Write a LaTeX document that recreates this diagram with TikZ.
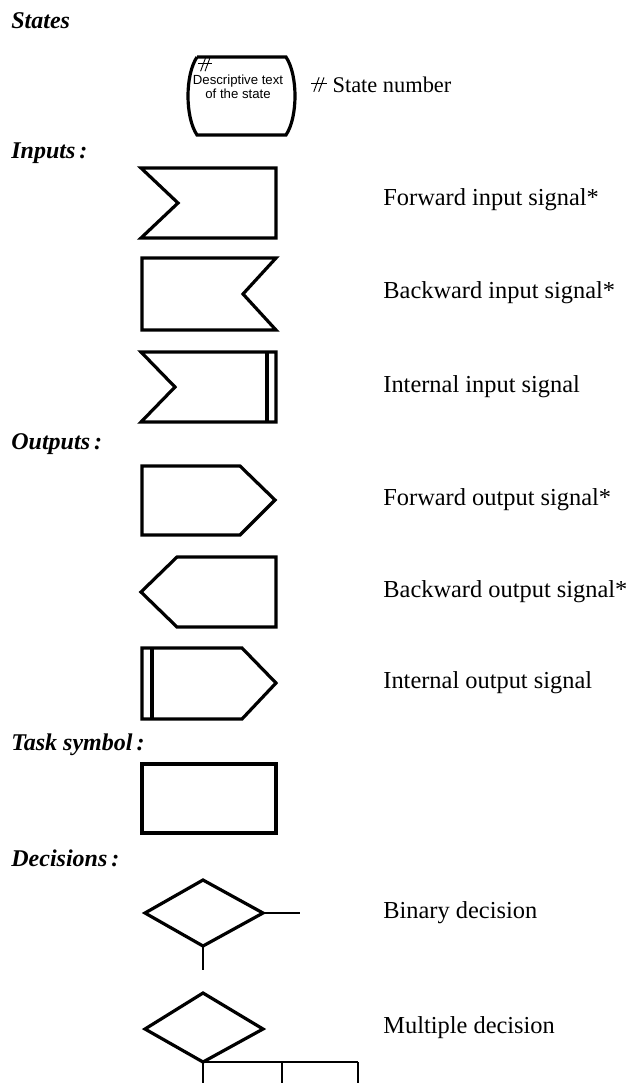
\documentclass[tikz,border=0pt]{standalone}
\usepackage{fontspec}
\setmainfont{Liberation Serif}
\setsansfont{Liberation Sans}
\usetikzlibrary{positioning}

% state number mark: two slanted strokes with one bar
\newcommand{\statemark}{\tikz[baseline=0pt,line width=0.45pt]{%
  \draw (0.05em,0.42em) -- (0.75em,0.42em);
  \draw (0.18em,0.05em) -- (0.42em,0.7em);
  \draw (0.40em,0.05em) -- (0.64em,0.7em);}}

\tikzset{
  symbol/.style={line width=1.6pt, line join=miter},
  flow/.style={line width=0.6pt},
  heading/.style={anchor=west, inner sep=0pt, font=\fontsize{12}{14}\selectfont\bfseries\itshape},
  caption/.style={anchor=west, inner sep=0pt, font=\fontsize{12.2}{14}\selectfont},
  statetext/.style={inner sep=0pt, font=\sffamily\fontsize{6.6}{7.2}\selectfont},
}

\begin{document}
\begin{tikzpicture}[x=0.5pt,y=-0.5pt]
\useasboundingbox (0,0) rectangle (629,1083);
%%
\node (hd_states)  at (11,21)  [heading] {States};
\node (hd_inputs)  at (11,153) [heading] {Inputs\,:};
\node (hd_outputs) at (11,444) [heading] {Outputs\,:};
\node (hd_task)    at (11,745) [heading] {Task symbol\,:};
\node (hd_dec)     at (11,858) [heading] {Decisions\,:};
%
% state symbol
\draw [symbol] (197,57) -- (286,57) .. controls (298,75) and (298,117) .. (286,135)
  -- (197,135) .. controls (185,117) and (185,75) .. (197,57);
\node (st_mark) at (205,65) [inner sep=0pt, font=\fontsize{10}{10}\selectfont] {\statemark};
\node (st_text) at (238,87) [statetext, align=center] {Descriptive text\\of the state};
\node (st_num)  at (310,85) [caption, font=\fontsize{11.2}{14}\selectfont] {\statemark\ State number};
%
% inputs
\draw [symbol] (141,168) -- (276,168) -- (276,238) -- (141,238) -- (178,203) -- cycle;
\node (in_fwd) at (383,200) [caption] {Forward input signal*};
\draw [symbol] (142,258) -- (276,258) -- (243,294) -- (276,330) -- (142,330) -- cycle;
\node (in_bwd) at (383,293) [caption] {Backward input signal*};
\draw [symbol] (141,352) -- (276,352) -- (276,422) -- (141,422) -- (175,387) -- cycle;
\draw [symbol] (267,352) -- (267,422);
\node (in_int) at (383,387) [caption] {Internal input signal};
%
% outputs
\draw [symbol] (142,466) -- (240,466) -- (275,500) -- (240,535) -- (142,535) -- cycle;
\node (out_fwd) at (383,500) [caption] {Forward output signal*};
\draw [symbol] (177,557) -- (276,557) -- (276,627) -- (177,627) -- (141,592) -- cycle;
\node (out_bwd) at (383,592) [caption] {Backward output signal*};
\draw [symbol] (142,648) -- (242,648) -- (276,683) -- (242,719) -- (142,719) -- cycle;
\draw [symbol] (152,648) -- (152,719);
\node (out_int) at (383,683) [caption] {Internal output signal};
%
% task
\draw [symbol] (142,764) rectangle (276,833);
%
% binary decision
\coordinate (bd_w) at (145,913);
\coordinate (bd_n) at (203,880);
\coordinate (bd_e) at (263,913);
\coordinate (bd_s) at (203,946);
\draw [symbol] (bd_w) -- (bd_n) -- (bd_e) -- (bd_s) -- cycle;
\coordinate (bd_yes) at (300,913);
\coordinate (bd_no)  at (203,970);
\draw [flow] (bd_e) -- (bd_yes);
\draw [flow] (bd_s) -- (bd_no);
\node (dec_bin) at (383,913) [caption] {Binary decision};
%
% multiple decision
\coordinate (md_w) at (145,1029);
\coordinate (md_n) at (203,993);
\coordinate (md_e) at (263,1029);
\coordinate (md_s) at (203,1062);
\draw [symbol] (md_w) -- (md_n) -- (md_e) -- (md_s) -- cycle;
\coordinate (md_b) at (282,1062);
\coordinate (md_c) at (358,1062);
\draw [flow] (md_s) -- (md_c);
\foreach \p in {md_s, md_b, md_c} {
  \draw [flow] (\p) -- ++(0,21);
}
\node (dec_mul) at (383,1028) [caption] {Multiple decision};
%
\end{tikzpicture}
\end{document}
